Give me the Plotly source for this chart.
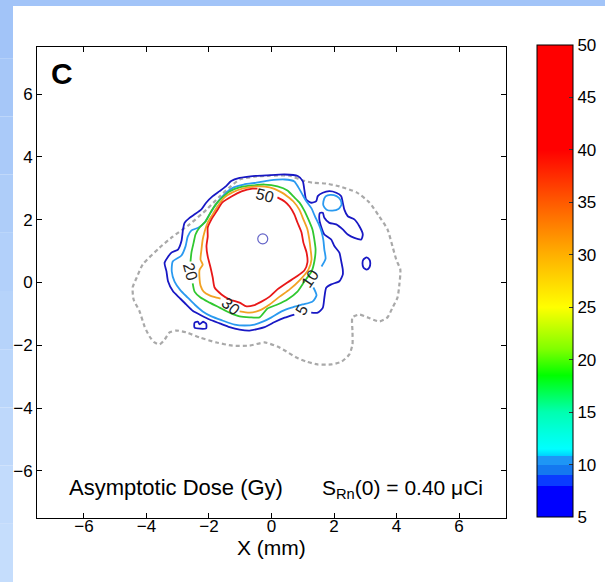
import plotly.graph_objects as go

# ---------------- data (mm / Gy) ----------------
x_ticks = [-6, -4, -2, 0, 2, 4, 6]
y_ticks = [-6, -4, -2, 0, 2, 4, 6]
cbar_ticks = [5, 10, 15, 20, 25, 30, 35, 40, 45, 50]
dose_min, dose_max = 5, 50

# 50 Gy iso-dose line (red)
c50_x = [0.19, 0.42, 0.58, 0.73, 0.83, 0.96, 1.02, 1.12, 1.15, 1.05, 0.80, 0.51, 0.19, -0.06, -0.32, -0.58, -0.80,
         -1.02, -1.34, -1.60, -1.82, -1.88, -1.95, -2.04, -2.08, -2.04, -2.04, -1.92, -1.76, -1.57, -1.28, -0.96,
         -0.61, -0.45]
c50_y = [2.71, 2.58, 2.42, 2.17, 1.91, 1.59, 1.27, 0.96, 0.64, 0.38, 0.19, 0.00, -0.22, -0.45, -0.61, -0.73, -0.76,
         -0.64, -0.54, -0.38, -0.16, 0.16, 0.48, 0.83, 1.15, 1.46, 1.75, 2.01, 2.26, 2.55, 2.74, 2.90, 2.99, 2.99]

# 30 Gy (orange)
c30_x = [-1.02, -0.70, -0.38, -0.06, 0.26, 0.58, 0.89, 1.18, 1.28, 1.25, 1.21, 1.15, 1.02, 0.89, 0.70, 0.51, 0.32,
         -0.06, -0.48, -0.93, -1.25, -1.50, -1.73, -1.88, -2.04, -2.14, -2.20, -2.24, -2.27, -2.20, -2.30, -2.30,
         -2.27, -2.17, -1.98, -1.76, -1.63]
c30_y = [-0.92, -0.96, -0.89, -0.70, -0.45, -0.22, 0.06, 0.41, 0.73, 1.05, 1.37, 1.69, 2.01, 2.32, 2.58, 2.74, 2.87,
         3.03, 3.06, 2.99, 2.87, 2.71, 2.42, 2.17, 1.91, 1.62, 1.37, 1.05, 0.73, 0.57, 0.41, 0.10, -0.10, -0.29,
         -0.41, -0.48, -0.51]

# 20 Gy (green)
c20_x = [-2.52, -2.46, -2.27, -1.98, -1.66, -1.34, -1.02, -0.70, -0.38, -0.13, 0.19, 0.51, 0.83, 1.05, 1.28, 1.37,
         1.41, 1.37, 1.31, 1.18, 1.05, 0.89, 0.70, 0.51, 0.19, -0.22, -0.61, -1.02, -1.34, -1.57, -1.79, -1.95,
         -2.11, -2.30, -2.43, -2.49, -2.56, -2.59]
c20_y = [-0.03, -0.29, -0.48, -0.64, -0.80, -0.96, -1.08, -1.11, -1.11, -0.83, -0.70, -0.54, -0.29, 0.03, 0.35, 0.67,
         1.05, 1.37, 1.69, 2.01, 2.29, 2.55, 2.74, 2.93, 3.06, 3.12, 3.09, 3.03, 2.90, 2.71, 2.48, 2.23, 1.94,
         1.75, 1.53, 1.27, 0.96, 0.67]

# 10 Gy (light blue) main line and small island
c10_x = [1.34, 1.44, 1.31, 0.99, 0.64, 0.32, 0.00, -0.26, -0.54, -0.86, -1.18, -1.57, -1.92, -2.20, -2.46, -2.68,
         -2.91, -3.10, -3.19, -3.16, -2.88, -2.75, -2.68, -2.56, -2.33, -2.14, -1.98, -1.82, -1.66, -1.44, -1.21,
         -0.89, -0.48, -0.06, 0.42, 0.73, 0.86, 0.99, 1.12, 1.28, 1.38, 1.50, 1.60, 1.66, 1.69, 1.73, 1.60]
c10_y = [-0.16, -0.41, -0.61, -0.70, -0.80, -0.92, -1.11, -1.24, -1.34, -1.37, -1.34, -1.21, -1.08, -0.92, -0.70,
         -0.48, -0.25, 0.03, 0.35, 0.67, 0.86, 1.15, 1.46, 1.66, 1.75, 1.91, 2.17, 2.42, 2.64, 2.87, 3.03, 3.12,
         3.18, 3.25, 3.28, 3.22, 3.03, 2.80, 2.58, 2.36, 2.13, 1.88, 1.62, 1.34, 1.05, 0.76, 0.51]
c10_island_x = [1.66, 1.73, 1.88, 2.08, 2.20, 2.24, 2.14, 1.95, 1.76, 1.66, 1.66]
c10_island_y = [2.58, 2.74, 2.79, 2.75, 2.64, 2.48, 2.34, 2.29, 2.32, 2.45, 2.58]

# 5 Gy (blue) main line and two islands
c5_x = [1.27, 1.48, 1.64, 1.69, 1.75, 1.91, 2.17, 2.28, 2.28, 2.23, 2.17, 2.01, 1.91, 1.69, 1.60, 1.53, 1.55, 1.64,
        1.69, 1.85, 2.07, 2.28, 2.44, 2.65, 2.87, 2.92, 2.81, 2.65, 2.44, 2.33, 2.28, 2.23, 2.07, 1.85, 1.64, 1.48,
        1.43, 1.27, 1.11, 1.05, 1.00, 0.84, 0.42, -0.17, -0.60, -1.02, -1.29, -1.45, -1.66, -1.88, -2.09, -2.25,
        -2.46, -2.62, -2.78, -2.83, -2.88, -2.99, -3.20, -3.42, -3.36, -3.31, -3.15, -2.94, -2.73, -2.51, -2.30,
        -1.98, -1.66, -1.34, -1.02, -0.70, -0.22, 0.10, 0.42, 0.73]
c5_y = [-0.96, -0.96, -0.81, -0.49, -0.17, -0.06, 0.04, 0.25, 0.41, 0.68, 0.95, 1.16, 1.37, 1.53, 1.74, 2.01, 2.22,
        2.22, 2.06, 1.90, 1.85, 1.69, 1.53, 1.42, 1.37, 1.53, 1.79, 2.01, 2.11, 2.32, 2.54, 2.75, 2.86, 2.91, 2.86,
        2.75, 2.59, 2.54, 2.64, 2.96, 3.23, 3.39, 3.44, 3.41, 3.39, 3.33, 3.23, 3.07, 2.91, 2.75, 2.54, 2.32, 2.17,
        2.06, 1.90, 1.69, 1.32, 1.05, 0.95, 0.63, 0.36, 0.04, -0.28, -0.49, -0.70, -0.91, -1.02, -1.18, -1.30,
        -1.42, -1.50, -1.53, -1.42, -1.26, -1.12, -1.02]
c5_isl1_x = [3.04, 3.13, 3.16, 3.13, 3.04, 2.94, 2.91, 2.94, 3.04]
c5_isl1_y = [0.80, 0.73, 0.61, 0.48, 0.41, 0.48, 0.61, 0.73, 0.80]
c5_isl2_x = [-2.46, -2.46, -2.35, -2.30, -2.19, -2.09, -2.09, -2.46]
c5_isl2_y = [-1.44, -1.28, -1.25, -1.33, -1.25, -1.31, -1.46, -1.44]

# tissue outline (gray dashed)
tissue_x = [-4.12, -3.58, -3.16, -2.62, -2.08, -1.66, -1.34, -1.02, -0.54, -0.06, 0.58, 1.00, 1.31, 1.76, 2.17, 2.72,
            3.13, 3.45, 3.71, 3.87, 3.99, 4.12, 4.09, 4.03, 3.87, 3.71, 3.45, 3.07, 2.81, 2.59, 2.59, 2.59, 2.49,
            2.24, 1.92, 1.47, 1.12, 0.80, 0.48, 0.19, -0.22, -0.70, -1.25, -1.76, -2.30, -2.72, -3.04, -3.26, -3.42,
            -3.58, -3.74, -3.90, -4.06, -4.22, -4.41, -4.44, -4.31, -4.12]
tissue_y = [0.57, 1.11, 1.46, 1.85, 2.32, 2.74, 3.03, 3.28, 3.37, 3.40, 3.40, 3.25, 3.18, 3.15, 3.06, 2.87, 2.55,
            2.10, 1.69, 1.15, 0.73, 0.41, -0.06, -0.48, -0.80, -1.11, -1.24, -1.11, -1.02, -1.11, -1.56, -1.97,
            -2.29, -2.52, -2.61, -2.61, -2.52, -2.39, -2.20, -2.04, -1.91, -2.01, -2.01, -1.91, -1.75, -1.59, -1.53,
            -1.59, -1.82, -1.97, -1.91, -1.72, -1.40, -0.92, -0.54, -0.16, 0.16, 0.57]

# source position
seed_x = [-0.28]
seed_y = [1.39]

# in-line contour labels
label_text = ["50", "30", "20", "10", "5"]
label_x = [-0.20, -1.29, -2.59, 1.23, 0.97]
label_y = [2.78, -0.75, 0.36, 0.13, -0.86]

# ---------------- style ----------------
FONT = "Arial, Liberation Sans, Helvetica, sans-serif"
label_angle = [15, 40, 75, -55, -60]
BLUE, LBLUE, GREEN, ORANGE, RED = "#1818c4", "#2a9af0", "#30c830", "#f2a224", "#e81818"

colorscale = [
    [0.0, "#0000ff"], [0.0667, "#0000ff"],
    [0.0667, "#0a3cff"], [0.0889, "#0a3cff"],
    [0.0889, "#1478f0"], [0.1111, "#1478f0"],
    [0.1111, "#1e96f5"], [0.1289, "#1e96f5"],
    [0.1289, "#00d0ff"], [0.1444, "#00ffff"],
    [0.1778, "#00ffe0"], [0.2222, "#00ffb0"],
    [0.3, "#00ff00"], [0.3556, "#80ff00"],
    [0.4444, "#ffff00"], [0.5556, "#ffb000"],
    [0.6667, "#ff5a00"], [0.7778, "#ff0000"], [1.0, "#ff0000"],
]

fig = go.Figure()


def add_line(xs, ys, color, width=1.8, dash=None):
    fig.add_trace(go.Scatter(x=xs, y=ys, mode="lines", hoverinfo="skip", showlegend=False,
                             line=dict(color=color, width=width, dash=dash, shape="spline", smoothing=0.6)))


add_line(tissue_x, tissue_y, "#a9a9a9", 2.2, "4px,3px")
add_line(c5_x, c5_y, BLUE)
add_line(c5_isl1_x, c5_isl1_y, BLUE)
add_line(c5_isl2_x, c5_isl2_y, BLUE)
add_line(c10_x, c10_y, LBLUE)
add_line(c10_island_x, c10_island_y, LBLUE)
add_line(c20_x, c20_y, GREEN)
add_line(c30_x, c30_y, ORANGE)
add_line(c50_x, c50_y, RED)

fig.add_trace(go.Scatter(x=seed_x, y=seed_y, mode="markers", hoverinfo="skip", showlegend=False,
                         marker=dict(symbol="circle-open", size=10, color="#6464c8", line=dict(width=1.2))))

# colour bar carrier (invisible markers)
fig.add_trace(go.Scatter(
    x=seed_x * 2, y=seed_y * 2, mode="markers", hoverinfo="skip", showlegend=False,
    marker=dict(size=1, opacity=0, color=[dose_min, dose_max], cmin=dose_min, cmax=dose_max,
                colorscale=colorscale, showscale=True,
                colorbar=dict(thickness=36, thicknessmode="pixels", len=472, lenmode="pixels",
                              x=1.066, xanchor="left", xpad=0, y=0.503, yanchor="middle", ypad=0,
                              outlinecolor="black", outlinewidth=1, tickvals=cbar_ticks,
                              ticks="inside", ticklen=4, tickcolor="#333333", tickwidth=1,
                              tickfont=dict(family=FONT, size=17, color="black"))),
))

for t, x, y, a in zip(label_text, label_x, label_y, label_angle):
    fig.add_annotation(x=x, y=y, text=t, textangle=a, showarrow=False,
                       font=dict(family=FONT, size=16, color="#222222"))

fig.add_annotation(x=-6.69, y=6.66, text="<b>C</b>", showarrow=False,
                   font=dict(family=FONT, size=30, color="black"))
fig.add_annotation(x=-3.05, y=-6.53, text="Asymptotic Dose (Gy)", showarrow=False,
                   font=dict(family=FONT, size=22, color="black"))
fig.add_annotation(x=4.20, y=-6.58, text="S<sub>Rn</sub>(0) = 0.40 μCi", showarrow=False,
                   font=dict(family=FONT, size=21, color="black"))

W, H, L, T, PW, PH = 605, 582, 37, 47, 469, 471

# x-axis title
fig.add_annotation(xref="paper", yref="paper", x=0.5, y=(T + PH - 547) / PH, yanchor="middle",
                   text="X (mm)", showarrow=False, font=dict(family=FONT, size=21, color="black"))

# slide background strips (light blue gradient)
strip_colors = ["#a2c4f8", "#a6c7f8", "#aacaf9", "#aecdf9", "#b2d0fa", "#b6d3fa", "#bad6fb", "#bed8fb",
                "#c2dbfc", "#c5ddfc"]
n = len(strip_colors)
for i, col in enumerate(strip_colors):
    py0, py1 = H * i / n, H * (i + 1) / n
    fig.add_shape(type="rect", xref="paper", yref="paper", layer="below", line=dict(width=0),
                  fillcolor=col, x0=(0 - L) / PW, x1=(13 - L) / PW,
                  y0=(T + PH - py1) / PH, y1=(T + PH - py0) / PH)
fig.add_shape(type="rect", xref="paper", yref="paper", layer="below", line=dict(width=0),
              fillcolor="#a2c4f8", x0=(13 - L) / PW, x1=(W - L) / PW,
              y0=(T + PH - 6) / PH, y1=(T + PH + 1) / PH)

axis_common = dict(range=[-7.5, 7.5], showgrid=False, zeroline=False, showline=True, linecolor="black",
                   linewidth=1, mirror="ticks", ticks="inside", ticklen=5, tickcolor="black",
                   tickfont=dict(family=FONT, size=17, color="black"))
fig.update_xaxes(tickvals=x_ticks, ticklabelstandoff=-7, **axis_common)
fig.update_yaxes(tickvals=y_ticks, **axis_common)

fig.update_layout(width=W, height=H, autosize=False,
                  margin=dict(l=L, r=W - L - PW, t=T, b=H - T - PH, autoexpand=False),
                  paper_bgcolor="white", plot_bgcolor="white", showlegend=False,
                  font=dict(family=FONT, color="black"))

fig.write_html("out.html", config={"displayModeBar": False},
               post_script="document.body.style.margin='0';document.body.style.padding='0';"
                           "document.documentElement.style.overflow='hidden';")
